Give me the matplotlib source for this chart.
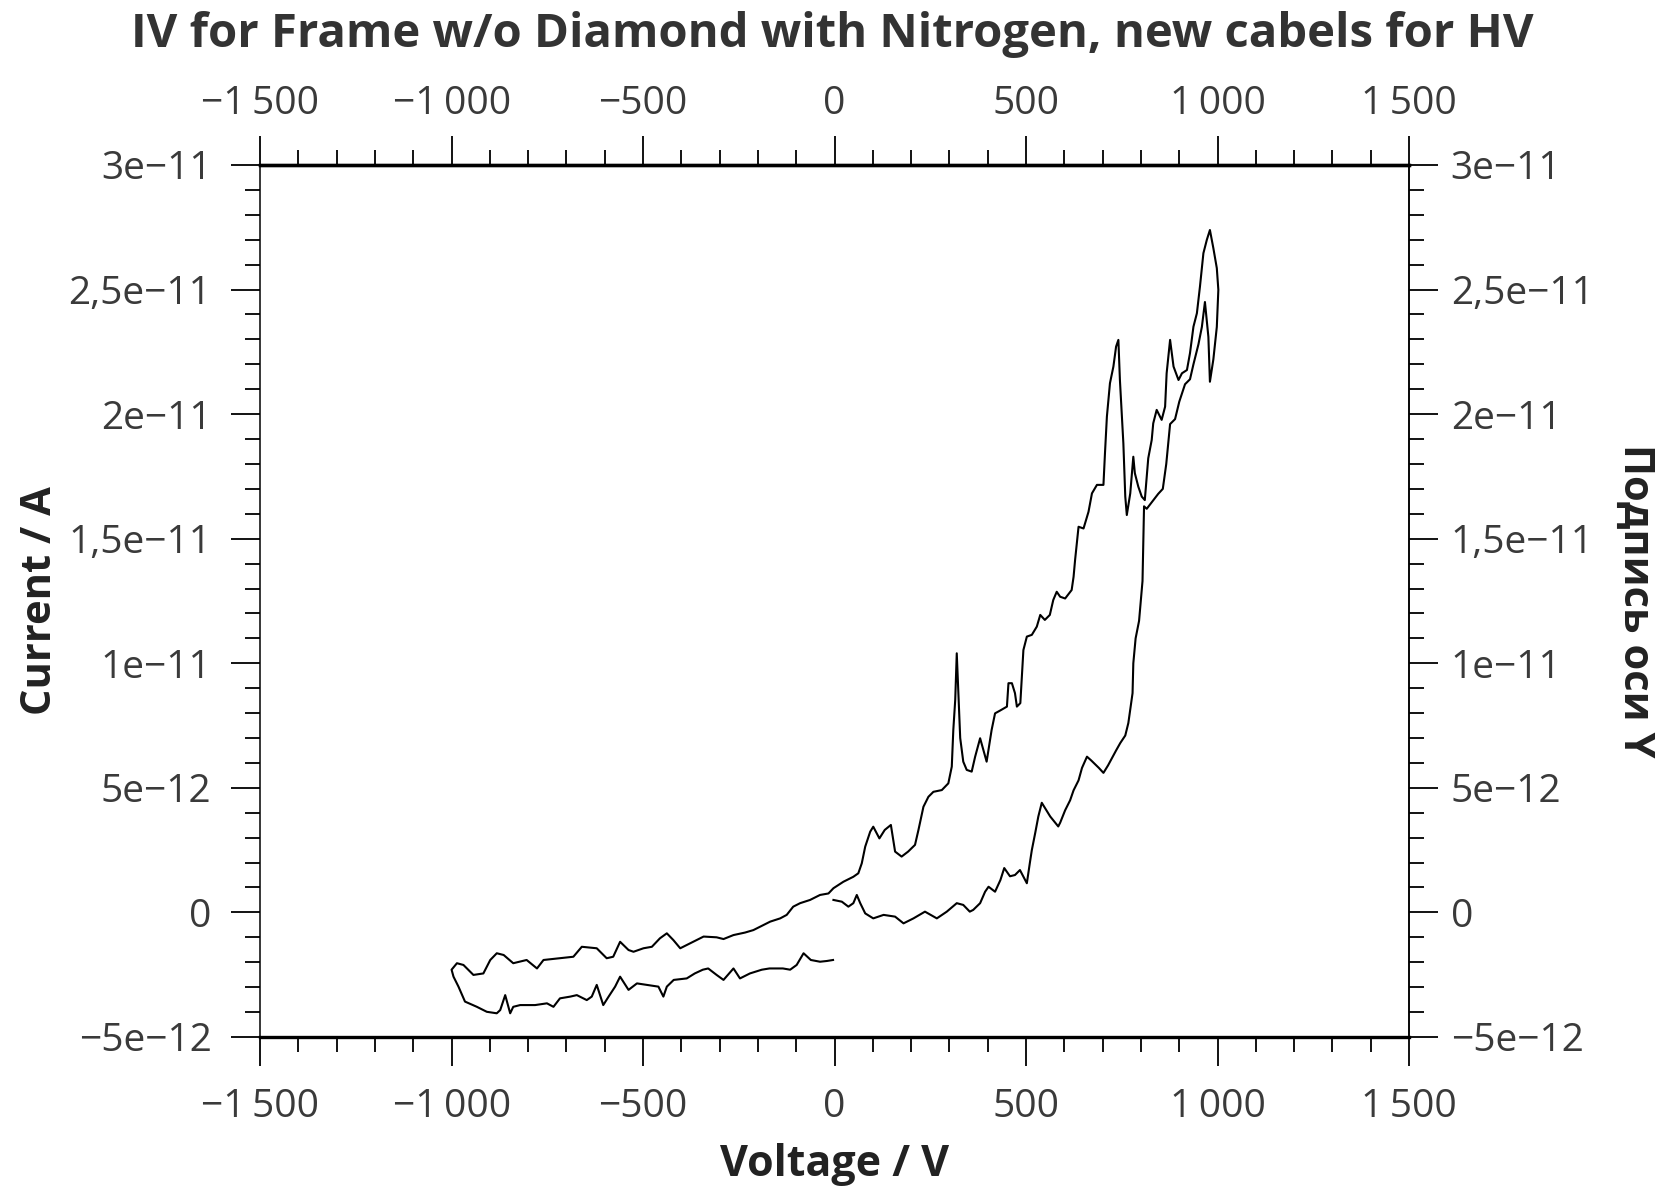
import numpy as np
import matplotlib.pyplot as plt
from matplotlib.ticker import MultipleLocator, FuncFormatter

# sweep 0 -> -1000 V (current in pA)
neg_down_v = [-4, -20, -38, -62, -81, -99, -116, -135, -155, -170, -190, -221, -247, -264,
              -290, -308, -330, -344, -365, -386, -420, -438, -447, -460, -490, -516, -538,
              -560, -573, -590, -604, -621, -634, -647, -673, -690, -717, -734, -751, -782,
              -821, -839, -847, -860, -873, -882, -908, -934, -965, -982, -995, -1000]
neg_down_i = [-1.91, -1.95, -1.98, -1.91, -1.64, -2.11, -2.30, -2.25, -2.25, -2.25, -2.30,
              -2.45, -2.65, -2.25, -2.71, -2.51, -2.25, -2.30, -2.45, -2.65, -2.71, -2.98,
              -3.38, -2.98, -2.91, -2.85, -3.11, -2.58, -2.98, -3.38, -3.72, -2.91, -3.38,
              -3.52, -3.32, -3.38, -3.45, -3.79, -3.65, -3.72, -3.72, -3.79, -4.05, -3.32,
              -3.92, -4.05, -3.99, -3.79, -3.58, -2.98, -2.58, -2.30]

# sweep -1000 -> 0 V
neg_up_v = [-986, -969, -943, -917, -899, -882, -864, -839, -804, -777, -760, -717, -682,
            -660, -621, -595, -578, -560, -538, -525, -499, -477, -456, -438, -421, -403,
            -386, -360, -342, -308, -290, -264, -234, -212, -186, -168, -142, -125, -108,
            -90, -64, -38, -16, -3]
neg_up_i = [-2.04, -2.11, -2.51, -2.45, -1.91, -1.64, -1.71, -2.04, -1.91, -2.25, -1.91,
            -1.84, -1.78, -1.38, -1.44, -1.84, -1.78, -1.18, -1.51, -1.58, -1.44, -1.38,
            -1.04, -0.84, -1.11, -1.44, -1.31, -1.11, -0.97, -1.00, -1.07, -0.91, -0.81,
            -0.71, -0.51, -0.37, -0.24, -0.10, 0.23, 0.37, 0.50, 0.70, 0.76, 0.97]

# sweep 0 -> +1000 V
pos_up_v = [23, 49, 62, 71, 80, 93, 101, 117, 131, 147, 158, 175, 192, 210, 219, 232, 245,
            258, 280, 297, 306, 310, 315, 319, 328, 336, 345, 358, 367, 380, 397, 410, 419,
            432, 450, 454, 463, 471, 476, 485, 489, 493, 502, 515, 528, 537, 549, 562, 571,
            580, 589, 602, 619, 624, 628, 637, 650, 663, 672, 685, 702, 706, 711, 719, 728,
            735, 741, 745, 754, 759, 763, 772, 780, 784, 793, 802, 810, 819, 828, 832, 841,
            854, 863, 867, 876, 880, 885, 898, 907, 920, 928, 937, 946, 954, 963, 972, 980,
            989, 998, 1002]
pos_up_i = [1.23, 1.43, 1.57, 1.97, 2.64, 3.24, 3.44, 2.97, 3.31, 3.51, 2.44, 2.24, 2.44,
            2.71, 3.31, 4.24, 4.64, 4.84, 4.91, 5.18, 5.85, 7.32, 8.53, 10.4, 7.0, 6.05,
            5.72, 5.65, 6.25, 6.99, 6.05, 7.32, 7.99, 8.10, 8.26, 9.20, 9.20, 8.80, 8.26,
            8.40, 9.46, 10.53, 11.07, 11.14, 11.47, 11.94, 11.74, 11.94, 12.54, 12.87,
            12.67, 12.60, 12.94, 13.47, 14.15, 15.48, 15.41, 16.08, 16.82, 17.16, 17.16,
            18.43, 19.90, 21.24, 21.91, 22.71, 22.98, 21.37, 18.83, 16.69, 15.95, 16.82,
            18.29, 17.63, 17.09, 16.69, 16.55, 18.23, 18.96, 19.63, 20.17, 19.77, 20.30,
            21.64, 22.98, 22.5, 21.91, 21.37, 21.64, 21.77, 22.45, 23.51, 24.05, 25.12,
            26.46, 27.00, 27.39, 26.66, 25.86, 24.99]

# sweep +1000 -> 0 V
pos_down_v = [998, 989, 980, 976, 967, 959, 950, 937, 928, 915, 900, 889, 876, 866, 857,
              845, 830, 815, 808, 804, 795, 786, 780, 778, 767, 759, 746, 735, 714, 702,
              690, 670, 659, 646, 637, 624, 615, 602, 589, 584, 563, 541, 532, 524, 515,
              510, 502, 484, 471, 458, 443, 433, 419, 402, 393, 380, 362, 353, 336, 319,
              293, 267, 236, 206, 180, 158, 128, 101, 80, 67, 58, 49, 36, 19, -3]
pos_down_i = [23.5, 22.2, 21.3, 23.1, 24.5, 23.5, 22.8, 22.0, 21.4, 21.2, 20.5, 19.8, 19.6,
              18.0, 17.0, 16.8, 16.5, 16.2, 16.3, 13.3, 11.7, 11.0, 10.0, 8.8, 7.6, 7.1,
              6.8, 6.5, 5.9, 5.6, 5.8, 6.1, 6.25, 5.8, 5.3, 4.9, 4.5, 4.1, 3.6, 3.45, 3.85,
              4.4, 3.85, 3.2, 2.5, 2.0, 1.17, 1.7, 1.5, 1.45, 1.78, 1.3, 0.83, 1.03, 0.83,
              0.37, 0.10, 0.03, 0.30, 0.37, 0.03, -0.24, 0.03, -0.24, -0.44, -0.17, -0.10,
              -0.24, -0.04, 0.37, 0.70, 0.37, 0.23, 0.43, 0.50]

voltage = np.array(neg_down_v + neg_up_v + pos_up_v + pos_down_v, dtype=float)
current = np.array(neg_down_i + neg_up_i + pos_up_i + pos_down_i) * 1e-12

plt.rcParams['font.family'] = ['Open Sans', 'DejaVu Sans']
txt = '#3a3a3a'
lab = '#222222'
fs_tick = 28


def fmt_x(v, pos):
    n = int(round(v))
    s = f'{abs(n):,}'.replace(',', '\u2009')
    return ('\u2212' if n < 0 else '') + s


def fmt_y(v, pos):
    if abs(v) < 1e-20:
        return '0'
    e = int(np.floor(np.log10(abs(v)) + 1e-9))
    m = v / 10 ** e
    ms = f'{abs(m):.1f}'.rstrip('0').rstrip('.').replace('.', ',')
    return ('\u2212' if v < 0 else '') + f'{ms}e\u2212{abs(e)}'


fig = plt.figure(figsize=(16.64, 11.87), dpi=100)
ax = fig.add_axes([0.1563, 0.1264, 0.6905, 0.7346])
ax.plot(voltage, current, color='black', linewidth=1.5)

ax.set_xlim(-1500, 1500)
ax.set_ylim(-5e-12, 3e-11)
ax.xaxis.set_major_locator(MultipleLocator(500))
ax.xaxis.set_minor_locator(MultipleLocator(100))
ax.yaxis.set_major_locator(MultipleLocator(5e-12))
ax.yaxis.set_minor_locator(MultipleLocator(1e-12))
ax.xaxis.set_major_formatter(FuncFormatter(fmt_x))
ax.yaxis.set_major_formatter(FuncFormatter(fmt_y))

for s in ['top', 'bottom']:
    ax.spines[s].set_linewidth(2.4)
for s in ['left', 'right']:
    ax.spines[s].set_linewidth(1.1)

ax.tick_params(axis='both', which='both', direction='out', colors='black',
               labelcolor=txt, labelsize=fs_tick)
ax.tick_params(axis='x', which='major', length=21, width=1.3, pad=16)
ax.tick_params(axis='x', which='minor', length=11, width=1.3)
ax.tick_params(axis='y', which='major', length=21, width=1.3, pad=14)
ax.tick_params(axis='y', which='minor', length=11, width=1.3)

# top axis with its own label spacing
secx = ax.secondary_xaxis('top')
secx.xaxis.set_major_locator(MultipleLocator(500))
secx.xaxis.set_minor_locator(MultipleLocator(100))
secx.xaxis.set_major_formatter(FuncFormatter(fmt_x))
secx.spines['top'].set_linewidth(2.4)
secx.tick_params(axis='x', which='major', length=21, width=1.3, pad=9,
                 labelsize=fs_tick, labelcolor=txt)
secx.tick_params(axis='x', which='minor', length=11, width=1.3)

# right axis
secy = ax.secondary_yaxis('right')
secy.yaxis.set_major_locator(MultipleLocator(5e-12))
secy.yaxis.set_minor_locator(MultipleLocator(1e-12))
secy.yaxis.set_major_formatter(FuncFormatter(fmt_y))
secy.spines['right'].set_linewidth(1.1)
secy.tick_params(axis='y', which='major', length=21, width=1.3, pad=9,
                 labelsize=fs_tick, labelcolor=txt)
secy.tick_params(axis='y', which='minor', length=11, width=1.3)

ax.set_xlabel('Voltage / V', fontsize=31, fontweight='bold', color=lab)
ax.set_ylabel('Current / A', fontsize=30, fontweight='bold', color=lab)
ax.xaxis.set_label_coords(0.5, -0.122)
ax.yaxis.set_label_coords(-0.173, 0.5)
fig.text(0.982, 0.4937, 'Подпись оси Y', rotation=270, ha='center', va='center',
         fontsize=30, fontweight='bold', color=lab)

fig.text(0.5, 0.971, 'IV for Frame w/o Diamond with Nitrogen, new cabels for HV',
         ha='center', va='center', fontsize=34, fontweight='bold', color='#333333')

fig.savefig('out.png', dpi=100)
